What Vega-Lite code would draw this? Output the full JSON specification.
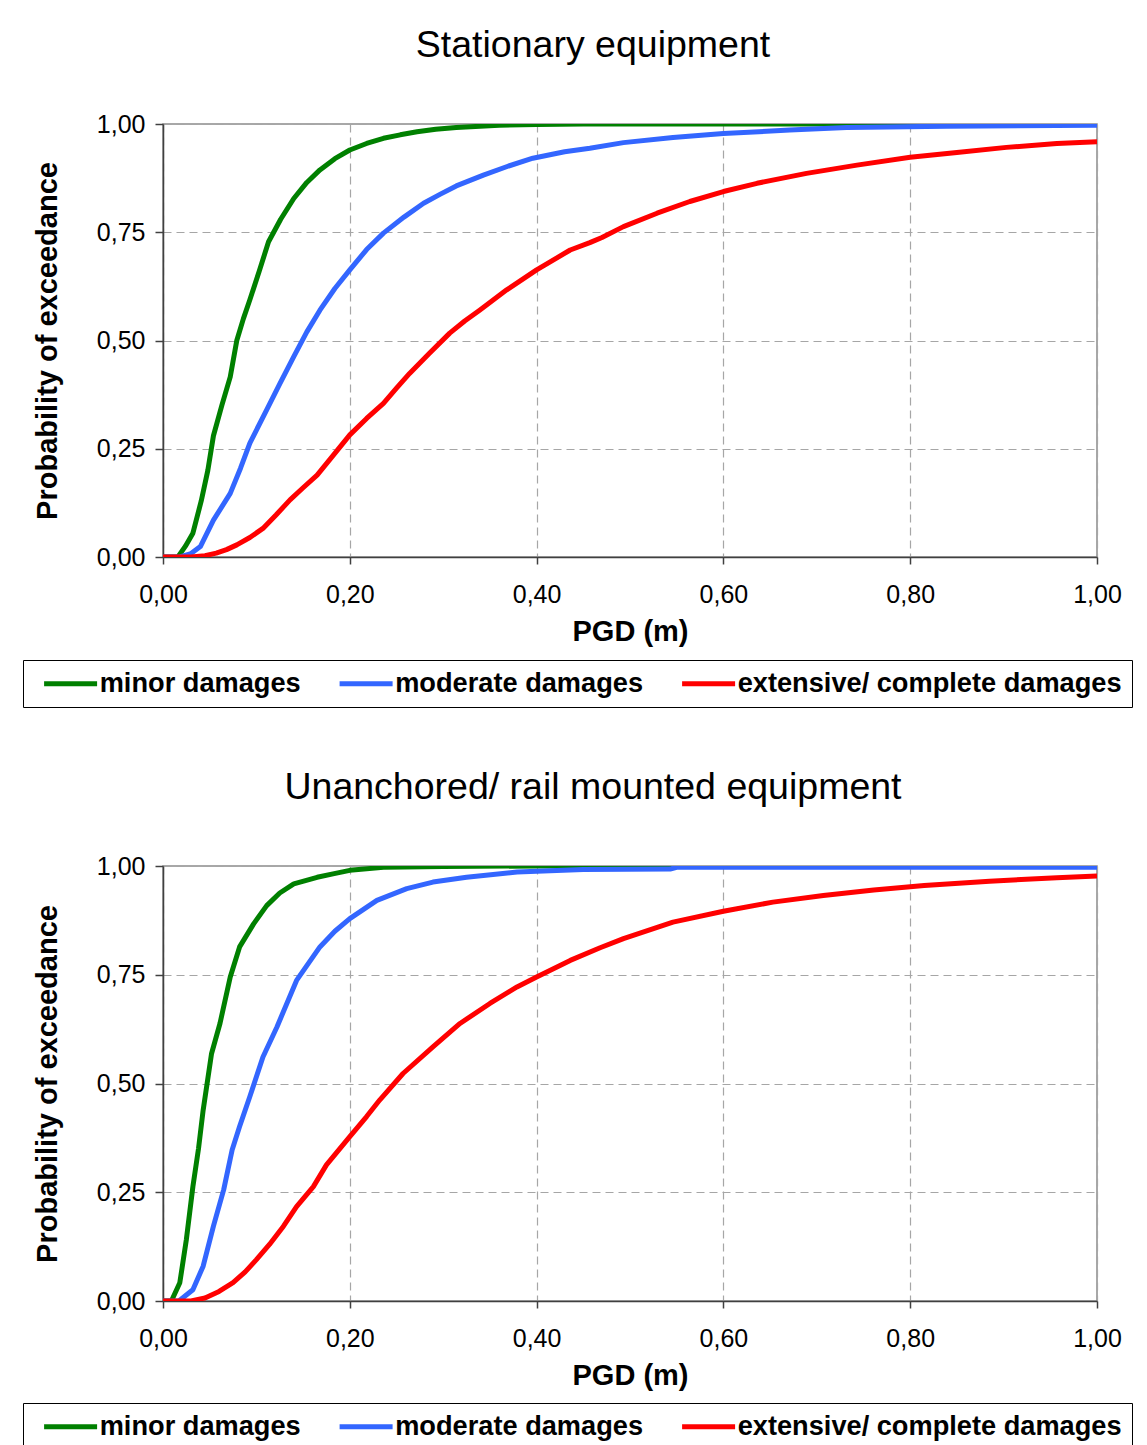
{
  "$schema": "https://vega.github.io/schema/vega-lite/v6.json",
  "background": "white",
  "padding": {"left": 21, "top": 25, "right": 10, "bottom": 0},
  "datasets": {
    "curves": [
      {"panel": "top", "damage": "minor damages", "pgd": 0, "p": 0},
      {"panel": "top", "damage": "minor damages", "pgd": 0.016, "p": 0},
      {"panel": "top", "damage": "minor damages", "pgd": 0.024, "p": 0.025},
      {"panel": "top", "damage": "minor damages", "pgd": 0.032, "p": 0.055},
      {"panel": "top", "damage": "minor damages", "pgd": 0.041, "p": 0.13},
      {"panel": "top", "damage": "minor damages", "pgd": 0.048, "p": 0.2},
      {"panel": "top", "damage": "minor damages", "pgd": 0.054, "p": 0.28},
      {"panel": "top", "damage": "minor damages", "pgd": 0.063, "p": 0.35},
      {"panel": "top", "damage": "minor damages", "pgd": 0.072, "p": 0.416},
      {"panel": "top", "damage": "minor damages", "pgd": 0.079, "p": 0.5},
      {"panel": "top", "damage": "minor damages", "pgd": 0.086, "p": 0.55},
      {"panel": "top", "damage": "minor damages", "pgd": 0.093, "p": 0.594},
      {"panel": "top", "damage": "minor damages", "pgd": 0.103, "p": 0.66},
      {"panel": "top", "damage": "minor damages", "pgd": 0.113, "p": 0.728},
      {"panel": "top", "damage": "minor damages", "pgd": 0.126, "p": 0.78},
      {"panel": "top", "damage": "minor damages", "pgd": 0.14, "p": 0.828},
      {"panel": "top", "damage": "minor damages", "pgd": 0.154, "p": 0.865},
      {"panel": "top", "damage": "minor damages", "pgd": 0.168, "p": 0.894},
      {"panel": "top", "damage": "minor damages", "pgd": 0.184, "p": 0.92},
      {"panel": "top", "damage": "minor damages", "pgd": 0.2, "p": 0.94},
      {"panel": "top", "damage": "minor damages", "pgd": 0.218, "p": 0.955},
      {"panel": "top", "damage": "minor damages", "pgd": 0.236, "p": 0.967},
      {"panel": "top", "damage": "minor damages", "pgd": 0.254, "p": 0.975},
      {"panel": "top", "damage": "minor damages", "pgd": 0.272, "p": 0.982},
      {"panel": "top", "damage": "minor damages", "pgd": 0.292, "p": 0.988},
      {"panel": "top", "damage": "minor damages", "pgd": 0.314, "p": 0.992},
      {"panel": "top", "damage": "minor damages", "pgd": 0.36, "p": 0.997},
      {"panel": "top", "damage": "minor damages", "pgd": 0.4, "p": 0.999},
      {"panel": "top", "damage": "minor damages", "pgd": 0.45, "p": 1.0},
      {"panel": "top", "damage": "minor damages", "pgd": 1.0, "p": 1.0},
      {"panel": "top", "damage": "moderate damages", "pgd": 0, "p": 0},
      {"panel": "top", "damage": "moderate damages", "pgd": 0.018, "p": 0},
      {"panel": "top", "damage": "moderate damages", "pgd": 0.03, "p": 0.008},
      {"panel": "top", "damage": "moderate damages", "pgd": 0.04, "p": 0.024},
      {"panel": "top", "damage": "moderate damages", "pgd": 0.054, "p": 0.085},
      {"panel": "top", "damage": "moderate damages", "pgd": 0.072, "p": 0.147},
      {"panel": "top", "damage": "moderate damages", "pgd": 0.083, "p": 0.205},
      {"panel": "top", "damage": "moderate damages", "pgd": 0.093, "p": 0.263},
      {"panel": "top", "damage": "moderate damages", "pgd": 0.111, "p": 0.34},
      {"panel": "top", "damage": "moderate damages", "pgd": 0.125, "p": 0.4},
      {"panel": "top", "damage": "moderate damages", "pgd": 0.14, "p": 0.463},
      {"panel": "top", "damage": "moderate damages", "pgd": 0.154, "p": 0.52},
      {"panel": "top", "damage": "moderate damages", "pgd": 0.168, "p": 0.57},
      {"panel": "top", "damage": "moderate damages", "pgd": 0.184, "p": 0.62},
      {"panel": "top", "damage": "moderate damages", "pgd": 0.2, "p": 0.663},
      {"panel": "top", "damage": "moderate damages", "pgd": 0.218, "p": 0.71},
      {"panel": "top", "damage": "moderate damages", "pgd": 0.236, "p": 0.748},
      {"panel": "top", "damage": "moderate damages", "pgd": 0.258, "p": 0.785},
      {"panel": "top", "damage": "moderate damages", "pgd": 0.279, "p": 0.817},
      {"panel": "top", "damage": "moderate damages", "pgd": 0.297, "p": 0.838},
      {"panel": "top", "damage": "moderate damages", "pgd": 0.314, "p": 0.857},
      {"panel": "top", "damage": "moderate damages", "pgd": 0.343, "p": 0.882},
      {"panel": "top", "damage": "moderate damages", "pgd": 0.37, "p": 0.903},
      {"panel": "top", "damage": "moderate damages", "pgd": 0.396, "p": 0.921},
      {"panel": "top", "damage": "moderate damages", "pgd": 0.43, "p": 0.936},
      {"panel": "top", "damage": "moderate damages", "pgd": 0.457, "p": 0.944},
      {"panel": "top", "damage": "moderate damages", "pgd": 0.493, "p": 0.957},
      {"panel": "top", "damage": "moderate damages", "pgd": 0.546, "p": 0.969},
      {"panel": "top", "damage": "moderate damages", "pgd": 0.6, "p": 0.978},
      {"panel": "top", "damage": "moderate damages", "pgd": 0.671, "p": 0.986},
      {"panel": "top", "damage": "moderate damages", "pgd": 0.732, "p": 0.992},
      {"panel": "top", "damage": "moderate damages", "pgd": 0.839, "p": 0.995},
      {"panel": "top", "damage": "moderate damages", "pgd": 1.0, "p": 0.997},
      {"panel": "top", "damage": "extensive/ complete damages", "pgd": 0, "p": 0},
      {"panel": "top", "damage": "extensive/ complete damages", "pgd": 0.03, "p": 0},
      {"panel": "top", "damage": "extensive/ complete damages", "pgd": 0.045, "p": 0.003},
      {"panel": "top", "damage": "extensive/ complete damages", "pgd": 0.057, "p": 0.009},
      {"panel": "top", "damage": "extensive/ complete damages", "pgd": 0.068, "p": 0.017},
      {"panel": "top", "damage": "extensive/ complete damages", "pgd": 0.079, "p": 0.028},
      {"panel": "top", "damage": "extensive/ complete damages", "pgd": 0.093, "p": 0.045},
      {"panel": "top", "damage": "extensive/ complete damages", "pgd": 0.107, "p": 0.066},
      {"panel": "top", "damage": "extensive/ complete damages", "pgd": 0.121, "p": 0.097},
      {"panel": "top", "damage": "extensive/ complete damages", "pgd": 0.136, "p": 0.132},
      {"panel": "top", "damage": "extensive/ complete damages", "pgd": 0.15, "p": 0.16},
      {"panel": "top", "damage": "extensive/ complete damages", "pgd": 0.165, "p": 0.189},
      {"panel": "top", "damage": "extensive/ complete damages", "pgd": 0.182, "p": 0.234},
      {"panel": "top", "damage": "extensive/ complete damages", "pgd": 0.2, "p": 0.282},
      {"panel": "top", "damage": "extensive/ complete damages", "pgd": 0.218, "p": 0.32},
      {"panel": "top", "damage": "extensive/ complete damages", "pgd": 0.236, "p": 0.355},
      {"panel": "top", "damage": "extensive/ complete damages", "pgd": 0.25, "p": 0.39},
      {"panel": "top", "damage": "extensive/ complete damages", "pgd": 0.264, "p": 0.424},
      {"panel": "top", "damage": "extensive/ complete damages", "pgd": 0.285, "p": 0.47},
      {"panel": "top", "damage": "extensive/ complete damages", "pgd": 0.307, "p": 0.517},
      {"panel": "top", "damage": "extensive/ complete damages", "pgd": 0.323, "p": 0.545},
      {"panel": "top", "damage": "extensive/ complete damages", "pgd": 0.339, "p": 0.57},
      {"panel": "top", "damage": "extensive/ complete damages", "pgd": 0.368, "p": 0.617},
      {"panel": "top", "damage": "extensive/ complete damages", "pgd": 0.4, "p": 0.663},
      {"panel": "top", "damage": "extensive/ complete damages", "pgd": 0.436, "p": 0.709},
      {"panel": "top", "damage": "extensive/ complete damages", "pgd": 0.457, "p": 0.726},
      {"panel": "top", "damage": "extensive/ complete damages", "pgd": 0.47, "p": 0.738},
      {"panel": "top", "damage": "extensive/ complete damages", "pgd": 0.493, "p": 0.763},
      {"panel": "top", "damage": "extensive/ complete damages", "pgd": 0.529, "p": 0.794},
      {"panel": "top", "damage": "extensive/ complete damages", "pgd": 0.564, "p": 0.821},
      {"panel": "top", "damage": "extensive/ complete damages", "pgd": 0.6, "p": 0.844},
      {"panel": "top", "damage": "extensive/ complete damages", "pgd": 0.636, "p": 0.863},
      {"panel": "top", "damage": "extensive/ complete damages", "pgd": 0.689, "p": 0.886},
      {"panel": "top", "damage": "extensive/ complete damages", "pgd": 0.743, "p": 0.905},
      {"panel": "top", "damage": "extensive/ complete damages", "pgd": 0.8, "p": 0.923},
      {"panel": "top", "damage": "extensive/ complete damages", "pgd": 0.85, "p": 0.934},
      {"panel": "top", "damage": "extensive/ complete damages", "pgd": 0.903, "p": 0.946},
      {"panel": "top", "damage": "extensive/ complete damages", "pgd": 0.957, "p": 0.955},
      {"panel": "top", "damage": "extensive/ complete damages", "pgd": 1.0, "p": 0.959},
      {"panel": "bottom", "damage": "minor damages", "pgd": 0, "p": 0},
      {"panel": "bottom", "damage": "minor damages", "pgd": 0.009, "p": 0},
      {"panel": "bottom", "damage": "minor damages", "pgd": 0.018, "p": 0.042},
      {"panel": "bottom", "damage": "minor damages", "pgd": 0.025, "p": 0.141},
      {"panel": "bottom", "damage": "minor damages", "pgd": 0.032, "p": 0.263},
      {"panel": "bottom", "damage": "minor damages", "pgd": 0.038, "p": 0.35},
      {"panel": "bottom", "damage": "minor damages", "pgd": 0.043, "p": 0.439},
      {"panel": "bottom", "damage": "minor damages", "pgd": 0.052, "p": 0.569},
      {"panel": "bottom", "damage": "minor damages", "pgd": 0.061, "p": 0.638},
      {"panel": "bottom", "damage": "minor damages", "pgd": 0.072, "p": 0.745},
      {"panel": "bottom", "damage": "minor damages", "pgd": 0.082, "p": 0.814},
      {"panel": "bottom", "damage": "minor damages", "pgd": 0.097, "p": 0.867},
      {"panel": "bottom", "damage": "minor damages", "pgd": 0.111, "p": 0.909},
      {"panel": "bottom", "damage": "minor damages", "pgd": 0.125, "p": 0.938},
      {"panel": "bottom", "damage": "minor damages", "pgd": 0.14, "p": 0.959},
      {"panel": "bottom", "damage": "minor damages", "pgd": 0.165, "p": 0.974},
      {"panel": "bottom", "damage": "minor damages", "pgd": 0.182, "p": 0.982},
      {"panel": "bottom", "damage": "minor damages", "pgd": 0.2, "p": 0.99},
      {"panel": "bottom", "damage": "minor damages", "pgd": 0.236, "p": 0.997},
      {"panel": "bottom", "damage": "minor damages", "pgd": 0.3, "p": 0.999},
      {"panel": "bottom", "damage": "minor damages", "pgd": 0.4, "p": 1.0},
      {"panel": "bottom", "damage": "minor damages", "pgd": 1.0, "p": 1.0},
      {"panel": "bottom", "damage": "moderate damages", "pgd": 0, "p": 0},
      {"panel": "bottom", "damage": "moderate damages", "pgd": 0.017, "p": 0},
      {"panel": "bottom", "damage": "moderate damages", "pgd": 0.032, "p": 0.026},
      {"panel": "bottom", "damage": "moderate damages", "pgd": 0.043, "p": 0.08},
      {"panel": "bottom", "damage": "moderate damages", "pgd": 0.054, "p": 0.172},
      {"panel": "bottom", "damage": "moderate damages", "pgd": 0.065, "p": 0.256},
      {"panel": "bottom", "damage": "moderate damages", "pgd": 0.074, "p": 0.347},
      {"panel": "bottom", "damage": "moderate damages", "pgd": 0.082, "p": 0.401},
      {"panel": "bottom", "damage": "moderate damages", "pgd": 0.093, "p": 0.47},
      {"panel": "bottom", "damage": "moderate damages", "pgd": 0.107, "p": 0.561},
      {"panel": "bottom", "damage": "moderate damages", "pgd": 0.122, "p": 0.63},
      {"panel": "bottom", "damage": "moderate damages", "pgd": 0.143, "p": 0.737},
      {"panel": "bottom", "damage": "moderate damages", "pgd": 0.168, "p": 0.814},
      {"panel": "bottom", "damage": "moderate damages", "pgd": 0.184, "p": 0.85},
      {"panel": "bottom", "damage": "moderate damages", "pgd": 0.2, "p": 0.879},
      {"panel": "bottom", "damage": "moderate damages", "pgd": 0.229, "p": 0.921},
      {"panel": "bottom", "damage": "moderate damages", "pgd": 0.261, "p": 0.948},
      {"panel": "bottom", "damage": "moderate damages", "pgd": 0.289, "p": 0.963},
      {"panel": "bottom", "damage": "moderate damages", "pgd": 0.325, "p": 0.974},
      {"panel": "bottom", "damage": "moderate damages", "pgd": 0.379, "p": 0.986},
      {"panel": "bottom", "damage": "moderate damages", "pgd": 0.45, "p": 0.992},
      {"panel": "bottom", "damage": "moderate damages", "pgd": 0.543, "p": 0.993},
      {"panel": "bottom", "damage": "moderate damages", "pgd": 0.55, "p": 0.997},
      {"panel": "bottom", "damage": "moderate damages", "pgd": 1.0, "p": 0.997},
      {"panel": "bottom", "damage": "extensive/ complete damages", "pgd": 0, "p": 0},
      {"panel": "bottom", "damage": "extensive/ complete damages", "pgd": 0.03, "p": 0},
      {"panel": "bottom", "damage": "extensive/ complete damages", "pgd": 0.045, "p": 0.007},
      {"panel": "bottom", "damage": "extensive/ complete damages", "pgd": 0.06, "p": 0.022},
      {"panel": "bottom", "damage": "extensive/ complete damages", "pgd": 0.075, "p": 0.042},
      {"panel": "bottom", "damage": "extensive/ complete damages", "pgd": 0.088, "p": 0.067},
      {"panel": "bottom", "damage": "extensive/ complete damages", "pgd": 0.1, "p": 0.095},
      {"panel": "bottom", "damage": "extensive/ complete damages", "pgd": 0.114, "p": 0.13},
      {"panel": "bottom", "damage": "extensive/ complete damages", "pgd": 0.129, "p": 0.172},
      {"panel": "bottom", "damage": "extensive/ complete damages", "pgd": 0.143, "p": 0.217},
      {"panel": "bottom", "damage": "extensive/ complete damages", "pgd": 0.161, "p": 0.263},
      {"panel": "bottom", "damage": "extensive/ complete damages", "pgd": 0.175, "p": 0.313},
      {"panel": "bottom", "damage": "extensive/ complete damages", "pgd": 0.2, "p": 0.378},
      {"panel": "bottom", "damage": "extensive/ complete damages", "pgd": 0.218, "p": 0.424},
      {"panel": "bottom", "damage": "extensive/ complete damages", "pgd": 0.232, "p": 0.462},
      {"panel": "bottom", "damage": "extensive/ complete damages", "pgd": 0.257, "p": 0.523},
      {"panel": "bottom", "damage": "extensive/ complete damages", "pgd": 0.289, "p": 0.584},
      {"panel": "bottom", "damage": "extensive/ complete damages", "pgd": 0.318, "p": 0.638},
      {"panel": "bottom", "damage": "extensive/ complete damages", "pgd": 0.35, "p": 0.684},
      {"panel": "bottom", "damage": "extensive/ complete damages", "pgd": 0.379, "p": 0.722},
      {"panel": "bottom", "damage": "extensive/ complete damages", "pgd": 0.4, "p": 0.745},
      {"panel": "bottom", "damage": "extensive/ complete damages", "pgd": 0.436, "p": 0.783},
      {"panel": "bottom", "damage": "extensive/ complete damages", "pgd": 0.468, "p": 0.812},
      {"panel": "bottom", "damage": "extensive/ complete damages", "pgd": 0.493, "p": 0.833},
      {"panel": "bottom", "damage": "extensive/ complete damages", "pgd": 0.546, "p": 0.871},
      {"panel": "bottom", "damage": "extensive/ complete damages", "pgd": 0.6, "p": 0.896},
      {"panel": "bottom", "damage": "extensive/ complete damages", "pgd": 0.653, "p": 0.917},
      {"panel": "bottom", "damage": "extensive/ complete damages", "pgd": 0.707, "p": 0.932},
      {"panel": "bottom", "damage": "extensive/ complete damages", "pgd": 0.761, "p": 0.945},
      {"panel": "bottom", "damage": "extensive/ complete damages", "pgd": 0.815, "p": 0.955},
      {"panel": "bottom", "damage": "extensive/ complete damages", "pgd": 0.885, "p": 0.965},
      {"panel": "bottom", "damage": "extensive/ complete damages", "pgd": 0.957, "p": 0.973},
      {"panel": "bottom", "damage": "extensive/ complete damages", "pgd": 1.0, "p": 0.977}
    ]
  },
  "data": {"name": "curves"},
  "spacing": 58,
  "resolve": {"legend": {"color": "independent"}},
  "vconcat": [
    {
      "title": {"text": "Stationary equipment"},
      "width": 934,
      "height": 433,
      "transform": [{"filter": "datum.panel === 'top'"}],
      "mark": {"type": "line", "strokeWidth": 5, "clip": true, "strokeJoin": "round"},
      "encoding": {
        "x": {"field": "pgd", "type": "quantitative", "scale": {"domain": [0, 1], "nice": false}, "axis": {"title": "PGD (m)", "values": [0, 0.2, 0.4, 0.6, 0.8, 1.0]}},
        "y": {"field": "p", "type": "quantitative", "scale": {"domain": [0, 1], "nice": false}, "axis": {"title": "Probability of exceedance", "values": [0, 0.25, 0.5, 0.75, 1.0]}},
        "color": {"field": "damage", "type": "nominal", "scale": {"domain": ["minor damages", "moderate damages", "extensive/ complete damages"], "range": ["#008000", "#3366FF", "#FF0000"]}, "legend": {"title": null, "orient": "none", "legendX": -140, "legendY": 536, "direction": "horizontal"}}
      }
    },
    {
      "title": {"text": "Unanchored/ rail mounted equipment"},
      "width": 934,
      "height": 435,
      "transform": [{"filter": "datum.panel === 'bottom'"}],
      "mark": {"type": "line", "strokeWidth": 5, "clip": true, "strokeJoin": "round"},
      "encoding": {
        "x": {"field": "pgd", "type": "quantitative", "scale": {"domain": [0, 1], "nice": false}, "axis": {"title": "PGD (m)", "values": [0, 0.2, 0.4, 0.6, 0.8, 1.0]}},
        "y": {"field": "p", "type": "quantitative", "scale": {"domain": [0, 1], "nice": false}, "axis": {"title": "Probability of exceedance", "values": [0, 0.25, 0.5, 0.75, 1.0]}},
        "color": {"field": "damage", "type": "nominal", "scale": {"domain": ["minor damages", "moderate damages", "extensive/ complete damages"], "range": ["#008000", "#3366FF", "#FF0000"]}, "legend": {"title": null, "orient": "none", "legendX": -140, "legendY": 537, "direction": "horizontal"}}
      }
    }
  ],
  "config": {
    "font": "Liberation Sans",
    "view": {"stroke": "#8c8c8c", "strokeWidth": 1.5},
    "title": {"fontSize": 37.5, "fontWeight": "normal", "color": "#000000", "anchor": "middle", "frame": "group", "dx": -37, "offset": 48},
    "axis": {
      "labelFontSize": 25,
      "labelColor": "#000000",
      "labelExpr": "replace(format(datum.value, '.2f'), '.', ',')",
      "titleFontSize": 29,
      "titleFontWeight": "bold",
      "titleColor": "#000000",
      "domainColor": "#404040",
      "domainWidth": 1.5,
      "tickColor": "#404040",
      "tickWidth": 1.5,
      "grid": true,
      "gridColor": "#a6a6a6",
      "gridDash": [8, 5],
      "gridWidth": 1.2,
      "labelFlush": false,
      "labelOverlap": false
    },
    "axisX": {"tickSize": 7, "labelPadding": 18, "titlePadding": 10},
    "axisY": {"tickSize": 8, "labelPadding": 10, "titlePadding": 34},
    "legend": {
      "symbolType": "M0,0H10.6",
      "symbolSize": 100,
      "symbolStrokeWidth": 5,
      "symbolOffset": -2.5,
      "labelFontSize": 27.2,
      "labelFontWeight": "bold",
      "labelColor": "#000000",
      "labelOffset": 42,
      "columnPadding": 27.5,
      "strokeColor": "#000000",
      "padding": 10,
      "labelLimit": 0
    }
  }
}
